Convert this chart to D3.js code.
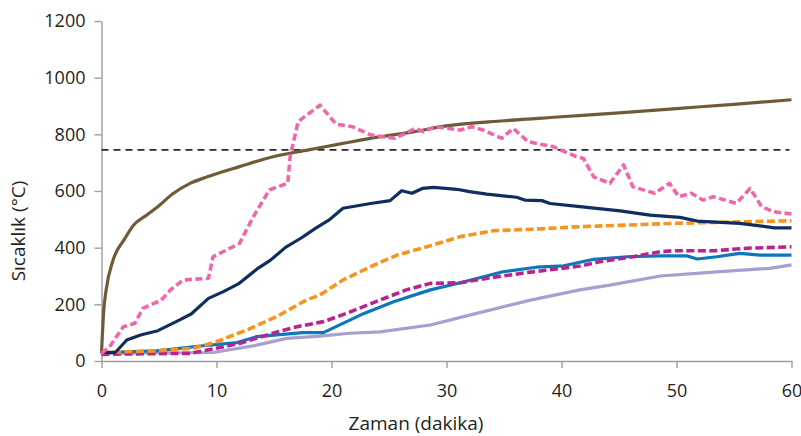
<!DOCTYPE html>
<html>
<head>
<meta charset="utf-8">
<script src="https://cdn.jsdelivr.net/npm/d3@7"></script>
<style>
  body { margin: 0; background: #fff; }
  text { font-family: "Open Sans", sans-serif; fill: #231f20; }
</style>
</head>
<body>
<div id="my_dataviz"></div>
<script>
// * DATA (time in minutes, temperature in °C)
var xTicks = [0, 10, 20, 30, 40, 50, 60];
var yTicks = [0, 200, 400, 600, 800, 1000, 1200];
var limitLine = 745;

var brownT = [0, 0.2, 0.4, 1, 2, 2.8, 4, 5, 6.2, 7.7, 9.2, 12, 15, 18, 21, 24, 27, 30, 35, 40, 45, 50, 55, 60];
var brownV = [27, 180, 250, 355, 430, 480, 517, 548, 590, 627, 650, 686, 722, 745, 768, 790, 808, 830, 848, 862, 876, 891, 906, 922];

var pinkT = [0, 0.7, 1.9, 2.9, 3.6, 5.2, 6, 7.1, 9.3, 9.7, 12, 13.2, 14.6, 16.2, 16.4, 17.1, 19, 20.4, 21.8, 23.4, 25.5, 27.3, 28, 29, 31.2, 32.2, 33.2, 34.8, 35.8, 37.1, 39.3, 41.3, 41.9, 42.8, 44.2, 45.4, 46.2, 48.1, 49.4, 50.2, 51.3, 52.3, 53.2, 55.2, 56.4, 57.4, 58.4, 60];
var pinkV = [27, 50, 121, 133, 186, 215, 251, 286, 292, 368, 415, 509, 604, 627, 721, 845, 903, 836, 827, 798, 786, 821, 809, 827, 815, 827, 815, 786, 821, 774, 756, 721, 715, 650, 627, 692, 615, 592, 627, 580, 592, 568, 580, 556, 609, 545, 527, 519];

var navyT = [0, 1.2, 2.2, 3.4, 4.9, 6.5, 7.8, 9.3, 10.6, 11.9, 13.6, 14.7, 16, 17.4, 18.6, 19.8, 21, 23.4, 25.1, 26.1, 27, 27.9, 28.9, 30.9, 32, 33.5, 36.1, 36.8, 38.3, 39, 41.6, 45.1, 47.7, 50.3, 51.8, 55.5, 58.5, 60];
var navyV = [30, 30, 74, 92, 107, 139, 166, 221, 245, 272, 327, 356, 401, 435, 468, 498, 539, 556, 566, 601, 592, 609, 613, 606, 598, 589, 578, 568, 566, 556, 545, 530, 515, 507, 494, 486, 470, 470];

var orangeT = [0, 4.8, 8, 10, 12.6, 15.2, 17.8, 19, 21, 23.4, 25.7, 28.3, 31.2, 34.1, 37.5, 41.6, 50, 60];
var orangeV = [30, 36, 45, 68, 109, 156, 215, 233, 286, 333, 374, 403, 439, 460, 465, 474, 486, 495];

var blueT = [0, 4.8, 8.6, 11.8, 13.5, 17.5, 19.3, 22.5, 25.4, 28.6, 31.2, 34.9, 37.8, 40.2, 42.8, 45.7, 48.6, 50.9, 51.8, 53.5, 55.5, 57.3, 60];
var blueV = [30, 36, 53, 65, 86, 100, 100, 162, 209, 251, 276, 315, 331, 336, 359, 368, 371, 371, 360, 368, 380, 374, 374];

var magentaT = [0, 7.7, 10, 12, 14.9, 17, 19.3, 21.3, 24.2, 26.5, 28.6, 31.2, 33.5, 37, 41.6, 43.3, 46.2, 48.6, 49.7, 53.2, 56.1, 60];
var magentaV = [24, 27, 45, 62, 98, 121, 139, 168, 215, 251, 274, 276, 292, 312, 335, 350, 368, 386, 389, 389, 398, 403];

var lavenderT = [0, 9.7, 13.5, 16.1, 19, 21.6, 24.2, 28.6, 32, 37.3, 41.6, 44.2, 48.6, 52.9, 58.1, 60];
var lavenderV = [27, 30, 56, 80, 88, 98, 103, 127, 162, 215, 251, 268, 300, 313, 327, 339];

// draw order: bottom ones first
var seriesList = [
  {name: "lavender", t: lavenderT, v: lavenderV, color: "#a79fd0", dash: null, curve: d3.curveLinear},
  {name: "blue", t: blueT, v: blueV, color: "#0b77bd", dash: null, curve: d3.curveLinear},
  {name: "magenta", t: magentaT, v: magentaV, color: "#b9238e", dash: "8,3.5", curve: d3.curveLinear},
  {name: "orange", t: orangeT, v: orangeV, color: "#f7941d", dash: "8,3.5", curve: d3.curveLinear},
  {name: "navy", t: navyT, v: navyV, color: "#0f2e5f", dash: null, curve: d3.curveLinear},
  {name: "brown", t: brownT, v: brownV, color: "#705b39", dash: null, curve: d3.curveMonotoneX},
  {name: "pink", t: pinkT, v: pinkV, color: "#f066aa", dash: "7,3.5", curve: d3.curveLinear}
];

// set the dimensions and margins of the graph
var W = 801, H = 436;
var margin = {top: 21, right: 9.5, bottom: 75, left: 101.5},
width = W - margin.left - margin.right,
height = H - margin.top - margin.bottom;

var svg = d3.select("#my_dataviz")
.append("svg")
.attr("width", W)
.attr("height", H)
.append("g")
.attr("transform", "translate(" + margin.left + "," + margin.top + ")");

var x = d3.scaleLinear().domain([0, 60]).range([0, width]);
var y = d3.scaleLinear().domain([0, 1200]).range([height, 0]);

// axes
var xAxis = svg.append("g")
.attr("transform", "translate(0," + height + ")")
.call(d3.axisBottom(x).tickValues(xTicks).tickFormat(d3.format("d")).tickSize(7).tickPadding(16).tickSizeOuter(0));

var yAxis = svg.append("g")
.call(d3.axisLeft(y).tickValues(yTicks).tickFormat(d3.format("d")).tickSize(7).tickPadding(9).tickSizeOuter(0));

[xAxis, yAxis].forEach(function(a) {
  a.select(".domain").attr("stroke", "#9d9d9d").attr("stroke-width", 1.4);
  a.selectAll(".tick line").attr("stroke", "#9d9d9d").attr("stroke-width", 1.4);
  a.selectAll(".tick text").style("font-size", "18px").style("font-family", "Open Sans").attr("fill", "#231f20");
});
xAxis.selectAll(".tick text").attr("dy", "0.71em");

// axis titles
svg.append("text")
.attr("x", 314.5)
.attr("y", height + 69)
.attr("text-anchor", "middle")
.style("font-size", "19px")
.text("Zaman (dakika)");

svg.append("text")
.attr("transform", "translate(" + (-77) + "," + 210 + ") rotate(-90)")
.attr("text-anchor", "middle")
.style("font-size", "19px")
.text("Sıcaklık (°C)");

// horizontal dashed limit line
svg.append("line")
.attr("x1", 0)
.attr("x2", x(60) - 2)
.attr("y1", y(limitLine))
.attr("y2", y(limitLine))
.attr("stroke", "#2b2b2b")
.attr("stroke-width", 1.6)
.attr("stroke-dasharray", "7,5");

// series lines
seriesList.forEach(function(s) {
  var pts = s.t.map(function(t, i) { return [t, s.v[i]]; });
  var line = d3.line()
  .x(function(d) { return x(d[0]); })
  .y(function(d) { return y(d[1]); })
  .curve(s.curve);
  svg.append("path")
  .datum(pts)
  .attr("d", line)
  .attr("fill", "none")
  .attr("stroke", s.color)
  .attr("stroke-width", s.dash ? 3.6 : 3.2)
  .attr("stroke-linejoin", "round")
  .attr("stroke-dasharray", s.dash);
});
</script>
</body>
</html>
